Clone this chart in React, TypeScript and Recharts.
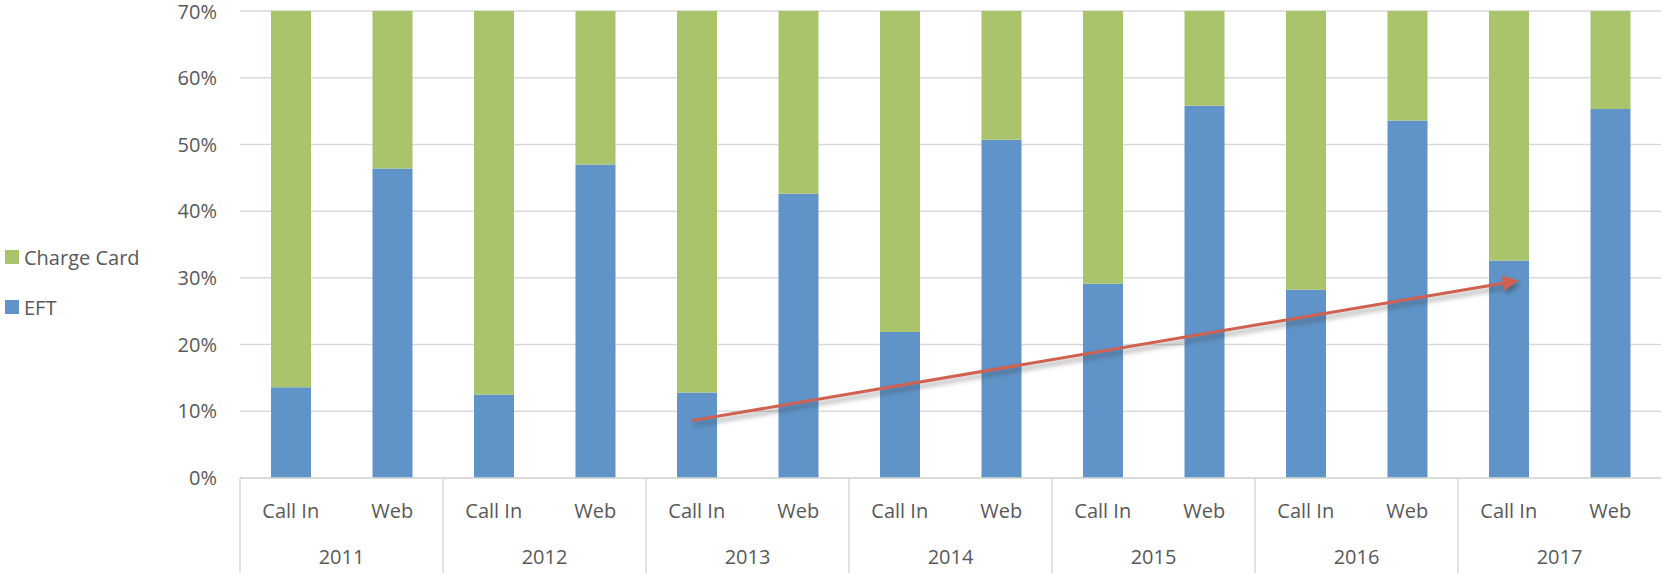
import { BarChart, Bar, XAxis, YAxis, CartesianGrid, Legend, ReferenceLine } from 'recharts';

const years = ['2011', '2011', '2012', '2012', '2013', '2013', '2014', '2014', '2015', '2015', '2016', '2016', '2017', '2017'];
const channels = ['Call In', 'Web', 'Call In', 'Web', 'Call In', 'Web', 'Call In', 'Web', 'Call In', 'Web', 'Call In', 'Web', 'Call In', 'Web'];
const eft = [0.136, 0.464, 0.125, 0.470, 0.128, 0.426, 0.219, 0.507, 0.291, 0.558, 0.282, 0.536, 0.326, 0.553];
const chargeCard = [0.864, 0.536, 0.875, 0.530, 0.872, 0.574, 0.781, 0.493, 0.709, 0.442, 0.718, 0.464, 0.674, 0.447];
const yTicks = [0, 0.1, 0.2, 0.3, 0.4, 0.5, 0.6, 0.7];

// column centres on a 0..14 scale, used by the hidden axis the trend arrow sits on
const slots = [0.5, 1.5, 2.5, 3.5, 4.5, 5.5, 6.5, 7.5, 8.5, 9.5, 10.5, 11.5, 12.5, 13.5];
const trendX = [4.45, 12.6];
const trendY = [0.086, 0.296];

const data = channels.map((c, i) => ({
  key: years[i] + ' ' + c,
  channel: c,
  year: years[i],
  slot: slots[i],
  eft: eft[i],
  chargeCard: chargeCard[i],
}));

const BLUE = '#6094C8';
const GREEN = '#AAC46C';
const RED = '#D0604F';
const TEXT = '#595959';
const FONT = '"Open Sans", sans-serif';

function CategoryTick(props: any) {
  const { x, y, payload } = props;
  const i = payload.index;
  const half = payload.offset;
  return (
    <g>
      <text x={x} y={y + 33} dy="0.355em" textAnchor="middle" fill={TEXT} fontSize={20} fontFamily={FONT}>
        {data[i].channel}
      </text>
      {i % 2 === 0 && <line x1={x - half} y1={y} x2={x - half} y2={y + 95} stroke="#d9d9d9" strokeWidth={1.5} />}
      {i % 2 === 1 && (
        <text x={x - half} y={y + 79} dy="0.355em" textAnchor="middle" fill={TEXT} fontSize={20} fontFamily={FONT}>
          {data[i].year}
        </text>
      )}
    </g>
  );
}

function Arrow(props: any) {
  const { x1, y1, x2, y2 } = props;
  const ang = Math.atan2(y2 - y1, x2 - x1);
  const len = 16;
  const w = 7.5;
  const bx = x2 - len * Math.cos(ang);
  const by = y2 - len * Math.sin(ang);
  const px = -Math.sin(ang) * w;
  const py = Math.cos(ang) * w;
  const head = `M${x2},${y2} L${bx + px},${by + py} L${bx - px},${by - py} Z`;
  return (
    <g>
      <defs>
        <filter id="arrowShadow" x="-10%" y="-50%" width="120%" height="200%">
          <feGaussianBlur stdDeviation="2.5" />
        </filter>
      </defs>
      <g filter="url(#arrowShadow)" opacity={0.45} transform="translate(2,4)">
        <line x1={x1} y1={y1} x2={bx} y2={by} stroke="#333" strokeWidth={3} />
        <path d={head} fill="#333" />
      </g>
      <line x1={x1} y1={y1} x2={bx} y2={by} stroke={RED} strokeWidth={3} />
      <path d={head} fill={RED} />
    </g>
  );
}

function LegendContent() {
  const items = [
    { label: 'Charge Card', color: GREEN },
    { label: 'EFT', color: BLUE },
  ];
  return (
    <div style={{ fontFamily: FONT, fontSize: 20, color: TEXT }}>
      {items.map((it) => (
        <div key={it.label} style={{ display: 'flex', alignItems: 'center', height: 50 }}>
          <span style={{ width: 14, height: 14, background: it.color, display: 'inline-block', marginRight: 5 }} />
          <span>{it.label}</span>
        </div>
      ))}
    </div>
  );
}

export default function App() {
  return (
    <div style={{ position: 'absolute', left: 0, top: 0 }}>
      {/* the left legend (200 wide) adds to the left offset, so the y axis only needs 40 */}
      <BarChart width={1661} height={573} data={data} margin={{ top: 11, right: 0, bottom: 0, left: 0 }}>
        <CartesianGrid vertical={false} stroke="#d9d9d9" strokeWidth={1.5} />
        <XAxis
          xAxisId="cat"
          dataKey="key"
          height={95}
          interval={0}
          tickLine={false}
          tickSize={0}
          tickMargin={0}
          axisLine={{ stroke: '#d9d9d9', strokeWidth: 1.5 }}
          tick={<CategoryTick />}
        />
        <XAxis xAxisId="num" dataKey="slot" type="number" domain={[0, 14]} allowDataOverflow hide />
        <YAxis
          width={40}
          domain={[0, 0.7]}
          allowDataOverflow
          ticks={yTicks}
          tickFormatter={(v) => Math.round(v * 100) + '%'}
          axisLine={false}
          tickLine={false}
          tickMargin={17}
          tick={{ fontSize: 20, fill: TEXT, fontFamily: FONT }}
        />
        <Legend
          layout="horizontal"
          verticalAlign="middle"
          align="left"
          content={<LegendContent />}
          wrapperStyle={{ left: 5, top: 232, width: 200 }}
        />
        <Bar xAxisId="cat" dataKey="eft" name="EFT" stackId="a" fill={BLUE} barSize={40} isAnimationActive={false} />
        <Bar xAxisId="cat" dataKey="chargeCard" name="Charge Card" stackId="a" fill={GREEN} barSize={40} isAnimationActive={false} />
        <ReferenceLine
          xAxisId="num"
          segment={[
            { x: trendX[0], y: trendY[0] },
            { x: trendX[1], y: trendY[1] },
          ]}
          stroke={RED}
          shape={<Arrow />}
        />
      </BarChart>
    </div>
  );
}
